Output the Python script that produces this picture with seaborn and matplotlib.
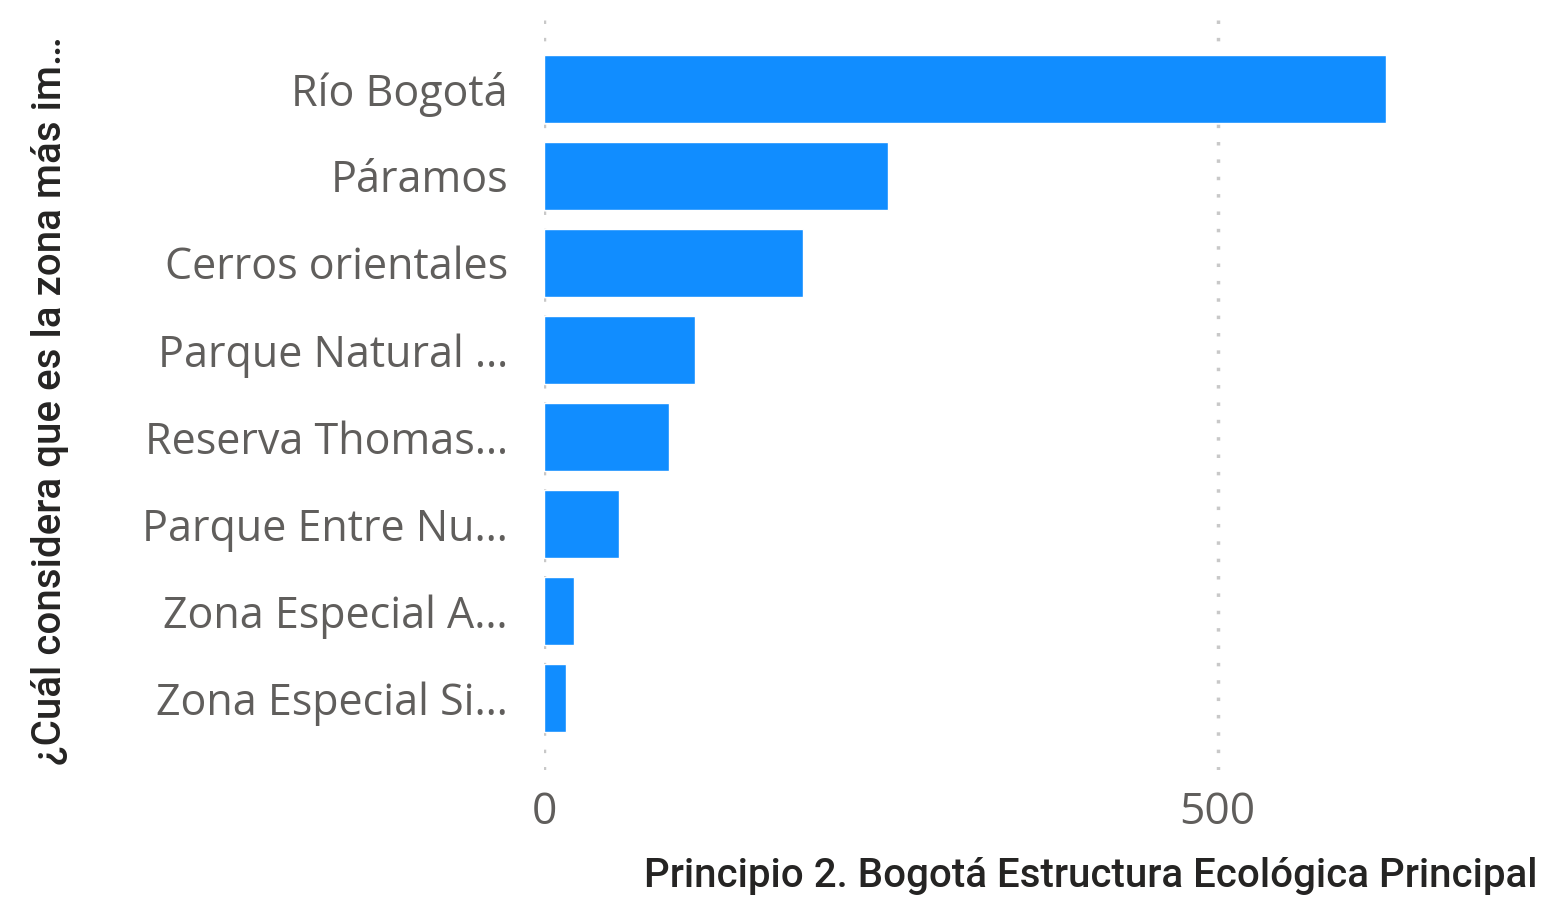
import matplotlib
matplotlib.use("Agg")
import matplotlib.pyplot as plt
import seaborn as sns
import pandas as pd

categories = ["Río Bogotá", "Páramos", "Cerros orientales", "Parque Natural …",
              "Reserva Thomas…", "Parque Entre Nu…", "Zona Especial A…", "Zona Especial Si…"]
counts = [625, 255, 192, 112, 93, 56, 22, 16]
x_ticks = [0, 500]

y_title = "¿Cuál considera que es la zona más im…"
x_title = "Principio 2. Bogotá Estructura Ecológica Principal"

sns.set_theme(style="white")
plt.rcParams["font.family"] = ["Open Sans", "DejaVu Sans"]

df = pd.DataFrame({"zona": categories, "n": counts})

W, H = 1541, 897
fig = plt.figure(figsize=(W / 100, H / 100), dpi=100)
ax = fig.add_axes([544 / W, 1 - 770 / H, (1386 - 544) / W, (770 - 20) / H])

sns.barplot(data=df, x="n", y="zona", orient="h", color="#118DFF",
            saturation=1, width=0.78, ax=ax)

ax.set_xlim(0, 625)
ax.set_ylim(7.83, -0.79)
ax.set_xticks(x_ticks)
ax.set_xticklabels([str(t) for t in x_ticks])
for t in x_ticks:
    ax.axvline(t, color="#C8C8C8", linestyle=(0, (1, 4)), linewidth=2.5, zorder=0)

ax.tick_params(axis="y", length=0, pad=26, labelsize=31, labelcolor="#605E5C")
ax.tick_params(axis="x", length=0, pad=15, labelsize=32, labelcolor="#605E5C")
ax.set_xlabel("")
ax.set_ylabel("")
for s in ax.spines.values():
    s.set_visible(False)

fig.text(50 / W, 1 - 765 / H, y_title, rotation=90, ha="center", va="bottom",
         fontsize=29, weight="medium", color="#252423", family=["Roboto", "DejaVu Sans"])
fig.text(1538 / W, 1 - 876 / H, x_title, ha="right", va="center",
         fontsize=29, weight="medium", color="#252423", family=["Roboto", "DejaVu Sans"])

fig.savefig("out.png", dpi=100)
